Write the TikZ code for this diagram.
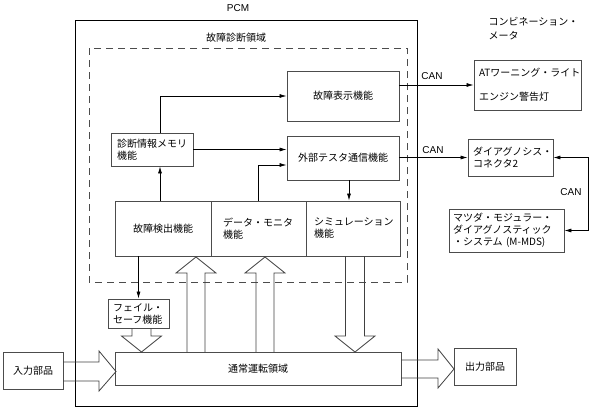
\documentclass[tikz,border=0pt]{standalone}
\usepackage{fontspec}
\setmainfont{Noto Sans CJK JP}
\newfontfamily\latin{Liberation Sans}
\usetikzlibrary{arrows.meta}

\tikzset{
  box/.style={draw=black!70, line width=0.8pt, inner sep=0pt, font=\fontsize{10}{12}\selectfont},
  arr/.style={-{Latex[length=7pt,width=4pt]}, line width=0.7pt},
  hollow/.style={draw=black!75, line width=0.8pt},
  can/.style={font=\latin\fontsize{10}{12}\selectfont},
  jp/.style={font=\fontsize{10}{12}\selectfont},
}

\begin{document}
\begin{tikzpicture}[x=1pt,y=-1pt]
    \useasboundingbox (0,0) rectangle (594,410);

    % PCM and diagnosis area
    \draw[line width=1pt] (75,20) rectangle (417,406);
    \draw[black!70, line width=0.8pt, dash pattern=on 7pt off 5pt] (89,48) rectangle (407,282);
    \node[can] (pcm) at (238,8) {PCM};
    \node[jp] (diag) at (236,38) {故障診断領域};

    % Function blocks
    \node[box, minimum width=112pt, minimum height=50pt] (disp) at (343,96) {故障表示機能};
    \node[box, minimum width=112pt, minimum height=44pt] (ext) at (343,158) {外部テスタ通信機能};
    \node[box, align=left, inner xsep=6pt, text width=70pt, minimum height=33pt] (mem) at (152,149.5) {診断情報メモリ\\機能};
    \node[box, minimum width=96pt, minimum height=55pt] (det) at (163,228.5) {故障検出機能};
    \node[box, align=left, inner xsep=12pt, text width=71pt, minimum height=55pt] (mon) at (258.5,228.5) {データ・モニタ\\機能};
    \node[box, align=left, inner xsep=8pt, text width=78pt, minimum height=55pt] (sim) at (353,228.5) {シミュレーション\\機能};
    \node[box, align=left, inner xsep=5pt, text width=51pt, minimum height=29pt] (fail) at (138.5,313.5) {フェイル・\\セーフ機能};
    \node[box, minimum width=286pt, minimum height=33pt] (norm) at (258,368.5) {通常運転領域};

    % Outside parts
    \node[box, minimum width=60pt, minimum height=37pt] (in) at (33,370.5) {入力部品};
    \node[box, minimum width=62pt, minimum height=37pt] (out) at (485,366.5) {出力部品};
    \node[jp, align=left, anchor=base west] (meterlbl) at (485,39) {コンビネーション・\\[2pt]メータ};
    \node[box, align=left, inner xsep=5pt, text width=97pt, minimum height=50pt] (meter) at (527.5,85) {ATワーニング・ライト\\[12pt]エンジン警告灯};
    \node[box, align=left, inner xsep=5pt, text width=75pt, minimum height=37pt] (conn) at (510.5,157.5) {ダイアグノシス・\\コネクタ2};
    \node[box, align=left, inner xsep=4pt, text width=107pt, minimum height=43pt] (mmds) at (506.5,230.5) {マツダ・モジュラー・\\ダイアグノスティック\\・システム (M-MDS)};

    % Signal arrows
    \draw[arr] ([xshift=8pt]mem.north) |- (disp.west);
    \draw[arr] (mem.east) -- (mem.east -| ext.west);
    \draw[arr] ([xshift=-3pt]det.north) -- ([xshift=8pt]mem.south);
    \draw[arr] (mon.north) |- ([yshift=-7pt]ext.west);
    \draw[arr] ([xshift=6pt]ext.south) -- ([xshift=-4pt]sim.north);
    \draw[arr] (fail.north |- det.south) -- (fail.north);

    % CAN lines
    \draw[arr] (disp.east |- meter.west) -- (meter.west);
    \draw[arr] (ext.east |- conn.west) -- (conn.west);
    \draw[{Latex[length=7pt,width=4pt]}-{Latex[length=7pt,width=4pt]}, line width=0.7pt]
        (conn.east) -- ++(35,0) |- (mmds.east);
    \node[can] (can1) at (432,76) {CAN};
    \node[can] (can2) at (433,150) {CAN};
    \node[can] (can3) at (571,192) {CAN};

    % Wide arrows up and down
    \foreach \cx in {196,265}
        \draw[hollow] (\cx-9,352) -- (\cx-9,273) -- (\cx-20,273) -- (\cx,257)
            -- (\cx+20,273) -- (\cx+9,273) -- (\cx+9,352);
    \foreach \cx/\ya in {141.5/328, 355/256}
        \draw[hollow] (\cx-9.5,\ya) -- (\cx-9.5,336) -- (\cx-20,336) -- (\cx,352)
            -- (\cx+20,336) -- (\cx+9.5,336) -- (\cx+9.5,\ya);

    % Wide arrows in and out
    \draw[hollow] (63,362) -- (99,362) -- (99,351) -- (116,371.5) -- (99,391) -- (99,381) -- (63,381);
    \draw[hollow] (401,360) -- (438,360) -- (438,349) -- (454,369) -- (438,388) -- (438,378) -- (401,378);
\end{tikzpicture}
\end{document}
